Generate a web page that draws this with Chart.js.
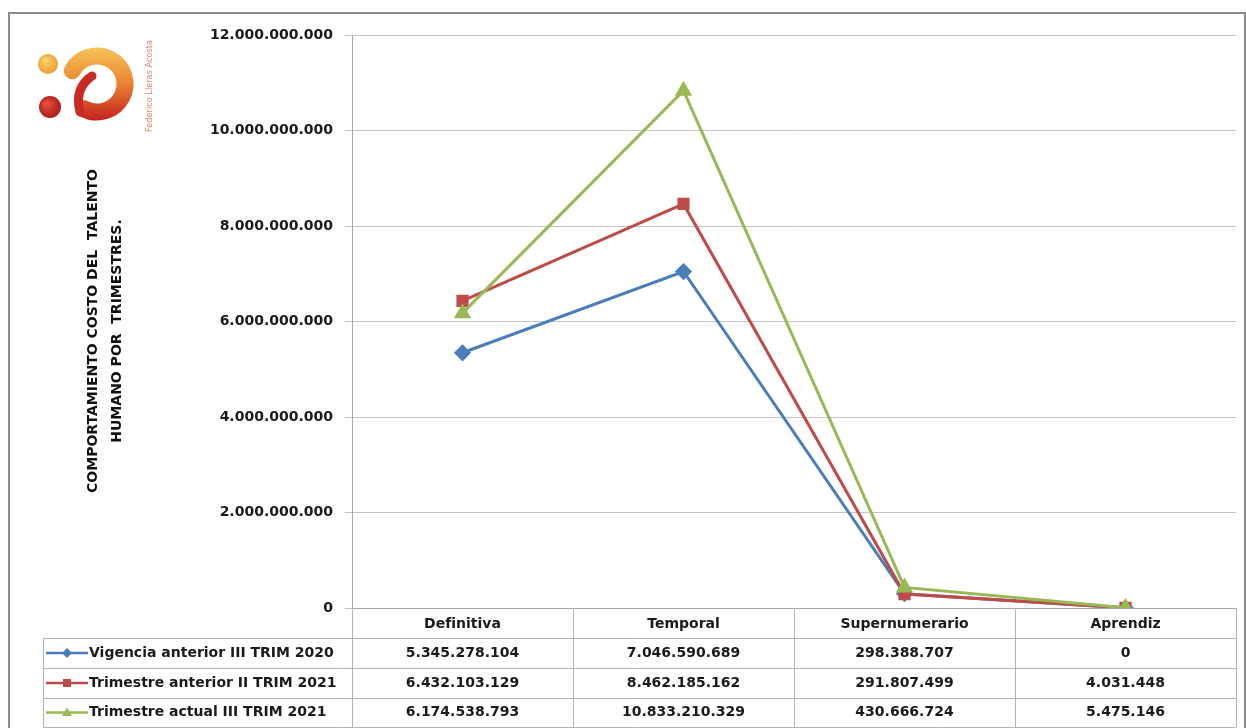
<!DOCTYPE html>
<html lang="es">
<head>
  <meta charset="UTF-8">
  <title>Comportamiento costo del talento humano</title>
  <style>
    body {
      margin: 0;
      padding: 0;
      background-color: #fff;
    }
    #wrap {
      position: relative;
      width: 1246px;
      height: 728px;
    }
  </style>
  <script src="https://cdn.jsdelivr.net/npm/chart.js"></script>
</head>
<body>

  <div id="wrap"><canvas id="costChart"></canvas></div>

  <script>
    const categories = ['Definitiva', 'Temporal', 'Supernumerario', 'Aprendiz'];
    const seriesNames = [
      'Vigencia anterior III TRIM 2020',
      'Trimestre anterior II TRIM 2021',
      'Trimestre actual III TRIM 2021'
    ];
    const vigencia2020 = [5345278104, 7046590689, 298388707, 0];
    const anterior2021 = [6432103129, 8462185162, 291807499, 4031448];
    const actual2021 = [6174538793, 10833210329, 430666724, 5475146];
    const yMax = 12000000000;
    const yStep = 2000000000;
    const axisTitle = ['COMPORTAMIENTO COSTO DEL  TALENTO', 'HUMANO POR  TRIMESTRES.'];
    const logoText = 'Federico Lleras Acosta';

    const colors = ['#4a7ebb', '#be4b48', '#98b954'];
    const markers = ['rectRot', 'rect', 'triangle'];
    const FONT = "'DejaVu Sans', sans-serif";

    // 12000000000 -> 12.000.000.000
    function fmt(n) {
      return String(n).replace(/\B(?=(\d{3})+(?!\d))/g, '.');
    }

    // dibuja un marcador pequeño para la leyenda de la tabla
    function drawMarker(ctx, style, x, y, r, color) {
      ctx.fillStyle = color;
      ctx.beginPath();
      if (style === 'rectRot') {
        ctx.moveTo(x, y - r); ctx.lineTo(x + r, y); ctx.lineTo(x, y + r); ctx.lineTo(x - r, y);
      } else if (style === 'rect') {
        ctx.rect(x - r * 0.8, y - r * 0.8, r * 1.6, r * 1.6);
      } else {
        ctx.moveTo(x, y - r); ctx.lineTo(x + r, y + r * 0.7); ctx.lineTo(x - r, y + r * 0.7);
      }
      ctx.closePath();
      ctx.fill();
    }

    // fondo, marco, logo y titulo del eje
    const decorPlugin = {
      id: 'decor',
      beforeDraw(chart) {
        const ctx = chart.ctx;
        ctx.save();
        ctx.fillStyle = '#fff';
        ctx.fillRect(0, 0, chart.width, chart.height);

        // marco
        ctx.strokeStyle = '#8c8c8c';
        ctx.lineWidth = 2;
        ctx.beginPath();
        ctx.moveTo(9, 740); ctx.lineTo(9, 13); ctx.lineTo(1245, 13); ctx.lineTo(1245, 740);
        ctx.stroke();

        // logo (aproximado)
        let g = ctx.createRadialGradient(45, 60, 1, 48, 64, 11);
        g.addColorStop(0, '#fbd36a'); g.addColorStop(1, '#e99a30');
        ctx.fillStyle = g;
        ctx.beginPath(); ctx.arc(48, 64, 10, 0, Math.PI * 2); ctx.fill();
        g = ctx.createRadialGradient(46, 103, 1, 50, 107, 12);
        g.addColorStop(0, '#e8503a'); g.addColorStop(1, '#a8191a');
        ctx.fillStyle = g;
        ctx.beginPath(); ctx.arc(50, 107, 11, 0, Math.PI * 2); ctx.fill();

        g = ctx.createLinearGradient(0, 46, 0, 122);
        g.addColorStop(0, '#f6c658'); g.addColorStop(0.45, '#ec8a34'); g.addColorStop(1, '#c21f1f');
        ctx.strokeStyle = g;
        ctx.lineCap = 'round';
        ctx.lineWidth = 17;
        ctx.beginPath(); ctx.arc(97, 84, 28, -2.65, 2.05); ctx.stroke();
        ctx.lineWidth = 9;
        ctx.strokeStyle = '#c92a22';
        ctx.beginPath(); ctx.moveTo(80, 112); ctx.quadraticCurveTo(74, 88, 92, 76); ctx.stroke();

        ctx.translate(150, 86);
        ctx.rotate(-Math.PI / 2);
        ctx.font = "9px 'Liberation Sans Narrow', 'DejaVu Sans Condensed', sans-serif";
        const tw = ctx.measureText(logoText).width;
        ctx.scale(92 / tw, 1);
        ctx.fillStyle = '#e2866c';
        ctx.textAlign = 'center';
        ctx.textBaseline = 'middle';
        ctx.fillText(logoText, 0, 0);
        ctx.restore();

        // titulo vertical del eje y
        ctx.save();
        ctx.translate(105, 331);
        ctx.rotate(-Math.PI / 2);
        ctx.font = 'bold 14px ' + FONT;
        ctx.fillStyle = '#111';
        ctx.textAlign = 'center';
        ctx.textBaseline = 'middle';
        ctx.fillText(axisTitle[0], 0, -12);
        ctx.fillText(axisTitle[1], 0, 12);
        ctx.restore();
      }
    };

    // tabla de datos debajo del eje x
    const tablePlugin = {
      id: 'dataTable',
      afterDraw(chart) {
        const ctx = chart.ctx;
        const area = chart.chartArea;
        const xs = chart.scales.x;
        const colW = (area.right - area.left) / categories.length;
        const top = area.bottom;
        const rowH = [30, 30, 30, 29];
        const tableLeft = 43;
        const rowsY = [top];
        rowH.forEach((h, i) => rowsY.push(rowsY[i] + h));
        const rows = [vigencia2020, anterior2021, actual2021];

        ctx.save();
        ctx.strokeStyle = '#b4b4b4';
        ctx.lineWidth = 1;
        // lineas horizontales
        for (let r = 1; r < rowsY.length; r++) {
          ctx.beginPath();
          ctx.moveTo(tableLeft, rowsY[r] + 0.5);
          ctx.lineTo(area.right, rowsY[r] + 0.5);
          ctx.stroke();
        }
        // lineas verticales
        for (let c = 0; c <= categories.length; c++) {
          const x = Math.round(area.left + c * colW) + 0.5;
          ctx.beginPath();
          ctx.moveTo(x, top);
          ctx.lineTo(x, rowsY[rowsY.length - 1]);
          ctx.stroke();
        }
        ctx.beginPath();
        ctx.moveTo(tableLeft + 0.5, rowsY[1]);
        ctx.lineTo(tableLeft + 0.5, rowsY[rowsY.length - 1]);
        ctx.stroke();

        ctx.font = 'bold 14px ' + FONT;
        ctx.fillStyle = '#1a1a1a';
        ctx.textBaseline = 'middle';
        rows.forEach((vals, r) => {
          const cy = (rowsY[r + 1] + rowsY[r + 2]) / 2;
          // leyenda
          ctx.strokeStyle = colors[r];
          ctx.lineWidth = 2.5;
          ctx.beginPath();
          ctx.moveTo(tableLeft + 3, cy);
          ctx.lineTo(tableLeft + 45, cy);
          ctx.stroke();
          drawMarker(ctx, markers[r], tableLeft + 24, cy, 5, colors[r]);
          ctx.fillStyle = '#1a1a1a';
          ctx.textAlign = 'left';
          ctx.fillText(seriesNames[r], tableLeft + 46, cy);
          // valores
          ctx.textAlign = 'center';
          vals.forEach((v, c) => {
            ctx.fillText(fmt(v), xs.getPixelForValue(c), cy);
          });
        });
        ctx.restore();
      }
    };

    function series(i, data) {
      return {
        label: seriesNames[i],
        data: data,
        borderColor: colors[i],
        backgroundColor: colors[i],
        borderWidth: 3,
        pointStyle: markers[i],
        pointRadius: i === 2 ? 7 : 6.5,
        pointHoverRadius: 7,
        tension: 0,
        order: 3 - i
      };
    }

    new Chart(document.getElementById('costChart'), {
      type: 'line',
      data: {
        labels: categories,
        datasets: [
          series(0, vigencia2020),
          series(1, anterior2021),
          series(2, actual2021)
        ]
      },
      options: {
        responsive: true,
        maintainAspectRatio: false,
        animation: false,
        layout: { padding: { top: 35, right: 8, left: 0, bottom: 0 } },
        plugins: {
          legend: { display: false },
          title: { display: false },
          tooltip: { enabled: false }
        },
        scales: {
          x: {
            offset: true,
            grid: { display: false },
            border: { display: true, color: '#a6a6a6', width: 1 },
            ticks: {
              font: { family: FONT, size: 14, weight: 'bold' },
              color: '#1a1a1a',
              padding: 0,
              maxRotation: 0
            },
            afterFit(scale) { scale.height = 120; }
          },
          y: {
            min: 0,
            max: yMax,
            grid: { color: '#c4c4c4', lineWidth: 1, tickLength: 7 },
            border: { color: '#a6a6a6', width: 1 },
            ticks: {
              stepSize: yStep,
              padding: 12,
              font: { family: FONT, size: 14, weight: 'bold' },
              color: '#1a1a1a',
              callback: v => fmt(v)
            },
            afterFit(scale) { scale.width = 352; }
          }
        }
      },
      plugins: [decorPlugin, tablePlugin]
    });
  </script>

</body>
</html>
